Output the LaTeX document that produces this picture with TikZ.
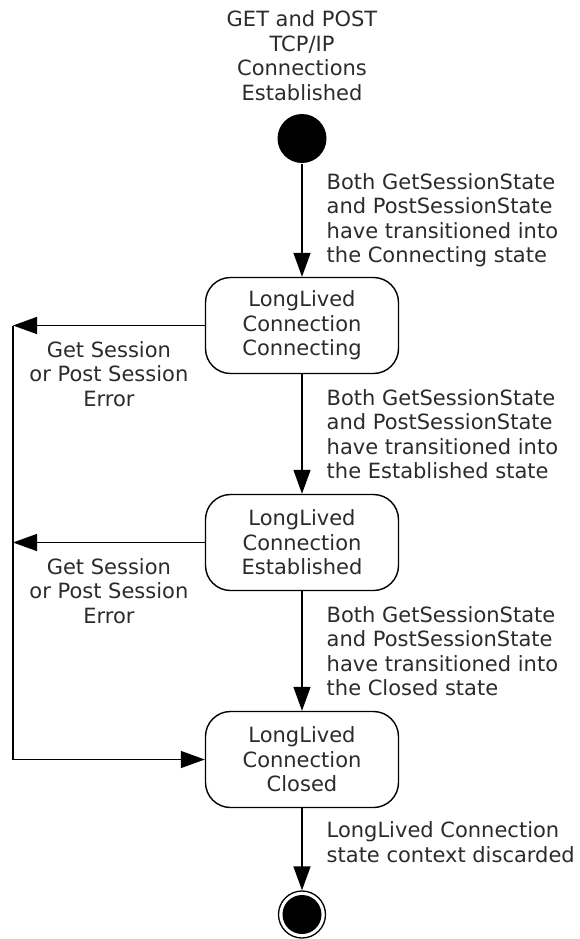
\documentclass[tikz,border=0pt]{standalone}
\usepackage{fontspec}
\setmainfont{DejaVu Sans}
\usetikzlibrary{arrows.meta}
\definecolor{ink}{HTML}{2B2B2B}

\begin{document}
\begin{tikzpicture}[x=1pt,y=1pt,line width=1.4pt,>={Triangle[length=24pt,width=17pt]}]
    \tikzstyle{every node}=[font=\fontsize{21}{24.5}\selectfont,text=ink]
    \tikzstyle{state}=[draw,rectangle,rounded corners=25pt,
        minimum width=193pt,minimum height=96pt,align=center]
    \tikzstyle{start}=[circle,fill=black,minimum size=49pt,inner sep=0pt]
    \tikzstyle{stop}=[circle,draw,line width=1.3pt,minimum size=47pt,inner sep=0pt,
        path picture={\fill (path picture bounding box.center) circle (19.5pt);}]
    \tikzstyle{trans}=[right,align=left,inner sep=3pt,xshift=21pt]
    \tikzstyle{err}=[below,align=center,inner sep=3pt,yshift=-12pt]

    \newcommand{\bothinto}[1]{Both GetSessionState\\and PostSessionState\\have transitioned into\\the #1 state}
    \newcommand{\sesserr}{Get Session\\or Post Session\\Error}
    \useasboundingbox (0,0) rectangle (579,-939);

    \node[start] (init) at (302,-138.5) {};
    \node[above of=init, node distance=83pt, align=center] (title) {GET and POST\\TCP/IP\\Connections\\Established};
    \node[state, below of=init, node distance=187pt] (c1) {LongLived\\Connection\\Connecting};
    \node[state, below of=c1, node distance=217pt] (c2) {LongLived\\Connection\\Established};
    \node[state, below of=c2, node distance=217pt] (c3) {LongLived\\Connection\\Closed};
    \node[stop, below of=c3, node distance=155pt] (fin) {};
    \coordinate (rail) at (13,0);

    \path[->] (init) edge node[trans]{\bothinto{Connecting}} (c1)
        (c1) edge node[trans]{\bothinto{Established}} (c2)
        (c2) edge node[trans]{\bothinto{Closed}} (c3)
        (c3) edge node[trans,yshift=7pt]{LongLived Connection\\state context discarded} (fin);
    \path[->] (c1) edge node[err]{\sesserr} (rail |- c1)
        (c2) edge node[err]{\sesserr} (rail |- c2);
    \draw[->] (rail |- c1) -- (rail |- c3) -- (c3);
\end{tikzpicture}
\end{document}
